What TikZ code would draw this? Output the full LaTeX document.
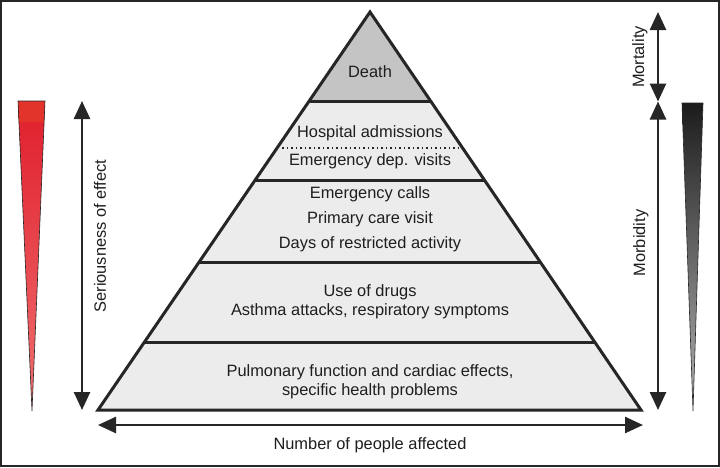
\documentclass[tikz,border=0pt]{standalone}
\usepackage{fontspec}
\setmainfont{Liberation Sans}
\usetikzlibrary{arrows.meta}
\definecolor{txt}{HTML}{1E1E1E}
\definecolor{lineC}{HTML}{262626}
\definecolor{topband}{HTML}{C4C4C4}
\definecolor{band}{HTML}{ECECEC}
\definecolor{redTop}{HTML}{E01E2C}
\definecolor{redBot}{HTML}{F07070}
\definecolor{redCap}{HTML}{E2342A}
\definecolor{blkTop}{HTML}{1C1C1C}
\definecolor{blkBot}{HTML}{B4B4B4}
\tikzset{
  lbl/.style={text=txt,font=\fontsize{16.4}{19}\selectfont,inner sep=0pt,anchor=center},
  divider/.style={draw=lineC,line width=3pt},
  dblarrow/.style={draw=lineC,line width=2.6pt,{Triangle[length=18pt,width=16pt]}-{Triangle[length=18pt,width=16pt]}},
  outline/.style={draw=lineC,line width=3pt,line join=miter},
}
\begin{document}
\begin{tikzpicture}[x=1pt,y=-1pt]
\useasboundingbox (0,0) rectangle (720,467);
\fill[white] (0,0) rectangle (720,467);
\draw[lineC,line width=1.6pt] (0.8,0.8) rectangle (719.2,466.2);
% pyramid
\coordinate (apex) at (370,12);
\coordinate (bl) at (98,410);
\coordinate (br) at (641,410);
\begin{scope}
  \clip (apex) -- (bl) -- (br) -- cycle;
  \fill[band] (90,0) rectangle (650,420);
  \fill[topband] (90,0) rectangle (650,101);
\end{scope}
% dividers
\coordinate (d1l) at (309.2,101); \coordinate (d1r) at (430.6,101);
\coordinate (d2l) at (255.2,180); \coordinate (d2r) at (484.4,180);
\coordinate (d3l) at (199.1,262); \coordinate (d3r) at (540.2,262);
\coordinate (d4l) at (144.5,342); \coordinate (d4r) at (594.7,342);
\coordinate (dtl) at (282,148); \coordinate (dtr) at (460,148);
\draw[divider] (d1l) -- (d1r);
\draw[divider] (d2l) -- (d2r);
\draw[divider] (d3l) -- (d3r);
\draw[divider] (d4l) -- (d4r);
\draw[lineC,line width=1.5pt,dash pattern=on 1.5pt off 3pt] (dtl) -- (dtr);
\draw[outline] (apex) -- (bl) -- (br) -- cycle;
% texts
\node[lbl] (death) at (370,72) {Death};
\node[lbl] (hosp) at (370,133) {Hospital admissions};
\node[lbl] (emdep) at (370,161) {Emergency dep. visits};
\node[lbl] (emcall) at (370,194) {Emergency calls};
\node[lbl] (prim) at (370,219) {Primary care visit};
\node[lbl] (days) at (370,244) {Days of restricted activity};
\node[lbl] (drugs) at (370,292) {Use of drugs};
\node[lbl] (asthma) at (370,311) {Asthma attacks, respiratory symptoms};
\node[lbl] (pulm) at (370,372) {Pulmonary function and cardiac effects,};
\node[lbl] (spec) at (370,391) {specific health problems};
% red wedge
\shade[top color=redTop,bottom color=redBot]
  (18,101) -- (45,101) -- (32,411) -- cycle;
\fill[redCap] (18,101) -- (45,101) -- (44.1,122) -- (18.9,122) -- cycle;
\draw[lineC,line width=0.6pt] (18,101) -- (45,101) -- (32,411) -- cycle;
% black wedge
\shade[top color=blkTop,bottom color=blkBot]
  (682,103) -- (703,103) -- (693,411) -- cycle;
\draw[lineC,line width=0.6pt] (682,103) -- (703,103) -- (693,411) -- cycle;
% arrows
\coordinate (sTop) at (82,101);
\coordinate (sBot) at (82,410);
\draw[dblarrow] (sTop) -- (sBot);
\node[lbl,rotate=90] (ser) at (100,236) {Seriousness of effect};
\coordinate (mTop) at (658,12);
\coordinate (mMid) at (658,101.5);
\coordinate (mBot) at (658,410);
\draw[dblarrow] (mTop) -- (mMid);
\draw[dblarrow] (mMid) -- (mBot);
\node[lbl,rotate=90] (mort) at (640,57) {Mortality};
\node[lbl,rotate=90] (morb) at (641,243) {Morbidity};
\coordinate (nL) at (98,425);
\coordinate (nR) at (643,425);
\draw[dblarrow] (nL) -- (nR);
\node[lbl] (num) at (370,445) {Number of people affected};
\end{tikzpicture}
\end{document}
